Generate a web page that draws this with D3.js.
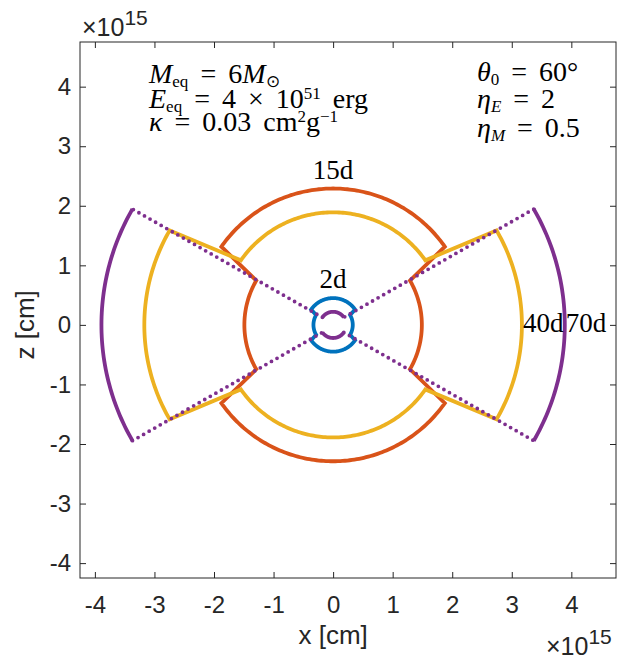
<!DOCTYPE html>
<html>
<head>
<meta charset="utf-8">
<script src="https://cdn.jsdelivr.net/npm/d3@7"></script>
<style>
  body { margin: 0; background: #fff; }
  svg { display: block; }
</style>
</head>
<body>
<div id="plot"></div>
<script>
// epochs of the ejecta outline, radii in units of 1e15 cm
var days = ["2d", "15d", "40d", "70d"];
var polarR = [0.45, 2.29, 1.89, 0.22];   // radius of the polar cap
var equatR = [0.33, 1.49, 3.17, 3.89];   // radius of the equatorial wing
var lineStyle = ["-", "-", "-", ":"];    // style of the joining lines
var labelSide = ["top", "top", "right", "right"];
var colors = ["#0072BD", "#D95319", "#EDB120", "#7E2F8E"];

// opening angles in degrees (from the x axis)
var wingAngle = 30;
var capAngle = 35;

var ticks = [-4, -3, -2, -1, 0, 1, 2, 3, 4];
var xLim = [-4.25, 4.75];
var yLim = [-4.25, 4.75];

var svgWidth = 624;
var svgHeight = 660;
var margin = { top: 42, left: 80 };
var width = 536;
var height = 536;

var svg = d3.select("#plot").append("svg")
  .attr("width", svgWidth)
  .attr("height", svgHeight);

var chartGroup = svg.append("g")
  .attr("transform", `translate(${margin.left}, ${margin.top})`);

var x = d3.scaleLinear().domain(xLim).range([0, width]);
var y = d3.scaleLinear().domain(yLim).range([height, 0]);

var axisColor = "#262626";
var sansFont = "'Liberation Sans', Arial, Helvetica, sans-serif";
var serifFont = "'Liberation Serif', 'Times New Roman', serif";

// axes, ticks pointing in, box on
function styleAxis(g) {
  g.select(".domain").remove();
  g.selectAll("line").attr("stroke", axisColor).attr("stroke-width", 1);
  g.selectAll("text").attr("fill", axisColor)
    .style("font-family", sansFont).style("font-size", "24px");
}

chartGroup.append("g")
  .attr("transform", `translate(0, ${height})`)
  .call(d3.axisBottom(x).tickValues(ticks).tickSize(-6).tickPadding(18).tickFormat(d => String(d)))
  .call(styleAxis);

chartGroup.append("g")
  .call(d3.axisLeft(y).tickValues(ticks).tickSize(-6).tickPadding(9).tickFormat(d => String(d)))
  .call(styleAxis);

chartGroup.append("g")
  .call(d3.axisTop(x).tickValues(ticks).tickSize(-6).tickFormat(""))
  .call(styleAxis);

chartGroup.append("g")
  .attr("transform", `translate(${width}, 0)`)
  .call(d3.axisRight(y).tickValues(ticks).tickSize(-6).tickFormat(""))
  .call(styleAxis);

chartGroup.append("rect")
  .attr("width", width)
  .attr("height", height)
  .attr("fill", "none")
  .attr("stroke", axisColor)
  .attr("stroke-width", 1);

// exponent labels
function exponentLabel(px, py) {
  var t = svg.append("text")
    .attr("x", px).attr("y", py)
    .attr("fill", axisColor)
    .style("font-family", sansFont).style("font-size", "25px");
  t.append("tspan").text("\u00d710");
  t.append("tspan").attr("dy", -11).style("font-size", "21px").text("15");
}
exponentLabel(82, 36);
exponentLabel(546, 655);

// axis labels
svg.append("text")
  .attr("x", margin.left + x(0))
  .attr("y", 644)
  .attr("text-anchor", "middle")
  .attr("fill", axisColor)
  .style("font-family", sansFont).style("font-size", "26px")
  .text("x [cm]");

svg.append("text")
  .attr("transform", `translate(34, ${margin.top + y(0)}) rotate(-90)`)
  .attr("text-anchor", "middle")
  .attr("fill", axisColor)
  .style("font-family", sansFont).style("font-size", "26px")
  .text("z [cm]");

// outline of each epoch
var line = d3.line()
  .x(d => x(d[0]))
  .y(d => y(d[1]));

function arcPts(r, a0, a1) {
  var pts = [];
  var n = Math.max(8, Math.ceil(Math.abs(a1 - a0)));
  for (var k = 0; k <= n; k++) {
    var a = (a0 + (a1 - a0) * k / n) * Math.PI / 180;
    pts.push([r * Math.cos(a), r * Math.sin(a)]);
  }
  return pts;
}

function polarPt(r, a) {
  a = a * Math.PI / 180;
  return [r * Math.cos(a), r * Math.sin(a)];
}

var shapes = chartGroup.append("g");

days.forEach(function(day, i) {
  var rp = polarR[i], re = equatR[i];
  var arcs = [
    arcPts(re, -wingAngle, wingAngle),
    arcPts(rp, capAngle, 180 - capAngle),
    arcPts(re, 180 - wingAngle, 180 + wingAngle),
    arcPts(rp, 180 + capAngle, 360 - capAngle)
  ];
  var joins = [
    [polarPt(re, wingAngle), polarPt(rp, capAngle)],
    [polarPt(rp, 180 - capAngle), polarPt(re, 180 - wingAngle)],
    [polarPt(re, 180 + wingAngle), polarPt(rp, 180 + capAngle)],
    [polarPt(rp, 360 - capAngle), polarPt(re, 360 - wingAngle)]
  ];

  if (lineStyle[i] === "-") {
    var outline = [].concat(arcs[0], arcs[1], arcs[2], arcs[3]);
    shapes.append("path")
      .attr("d", line(outline) + "Z")
      .attr("fill", "none")
      .attr("stroke", colors[i])
      .attr("stroke-width", 3.8)
      .attr("stroke-linejoin", "miter");
  }
  else {
    shapes.selectAll(null)
      .data(arcs)
      .enter()
      .append("path")
      .attr("d", d => line(d))
      .attr("fill", "none")
      .attr("stroke", colors[i])
      .attr("stroke-width", 3.8);
    shapes.selectAll(null)
      .data(joins)
      .enter()
      .append("path")
      .attr("d", d => line(d))
      .attr("fill", "none")
      .attr("stroke", colors[i])
      .attr("stroke-width", 3.8)
      .attr("stroke-linecap", "round")
      .attr("stroke-dasharray", "0 6.4");
  }
});

// epoch labels
days.forEach(function(day, i) {
  var t = chartGroup.append("text")
    .attr("fill", "#000")
    .style("font-family", serifFont).style("font-size", "27px")
    .text(day);
  if (labelSide[i] === "top") {
    t.attr("x", x(0)).attr("y", y(polarR[i]) - 10).attr("text-anchor", "middle");
  }
  else {
    t.attr("x", x(equatR[i]) + 1).attr("y", y(0)).attr("dy", "0.27em");
  }
});

// parameter annotations
function mathLine(px, py, parts) {
  var t = svg.append("text")
    .attr("x", px).attr("y", py)
    .attr("fill", "#000")
    .style("font-family", serifFont).style("font-size", "28px")
    .style("word-spacing", "5px");
  var shift = 0;
  parts.forEach(function(p) {
    var target = p.sub ? 4 : (p.sup ? -9 : 0);
    t.append("tspan")
      .attr("dy", target - shift)
      .style("font-style", p.i ? "italic" : "normal")
      .style("font-size", (p.sub || p.sup) ? "17px" : "28px")
      .text(p.t);
    shift = target;
  });
}

mathLine(149, 83, [{ t: "M", i: true }, { t: "eq", sub: true }, { t: " = 6" }, { t: "M", i: true }, { t: "\u2299", sub: true }]);
mathLine(149, 108, [{ t: "E", i: true }, { t: "eq", sub: true }, { t: " = 4 \u00d7 10" }, { t: "51", sup: true }, { t: " erg" }]);
mathLine(149, 131, [{ t: "\u03ba", i: true }, { t: " = 0.03 cm" }, { t: "2", sup: true }, { t: "g" }, { t: "\u22121", sup: true }]);

mathLine(477, 81, [{ t: "\u03b8", i: true }, { t: "0", sub: true }, { t: " = 60\u00b0" }]);
mathLine(477, 108, [{ t: "\u03b7", i: true }, { t: "E", i: true, sub: true }, { t: " = 2" }]);
mathLine(477, 137, [{ t: "\u03b7", i: true }, { t: "M", i: true, sub: true }, { t: " = 0.5" }]);
</script>
</body>
</html>
